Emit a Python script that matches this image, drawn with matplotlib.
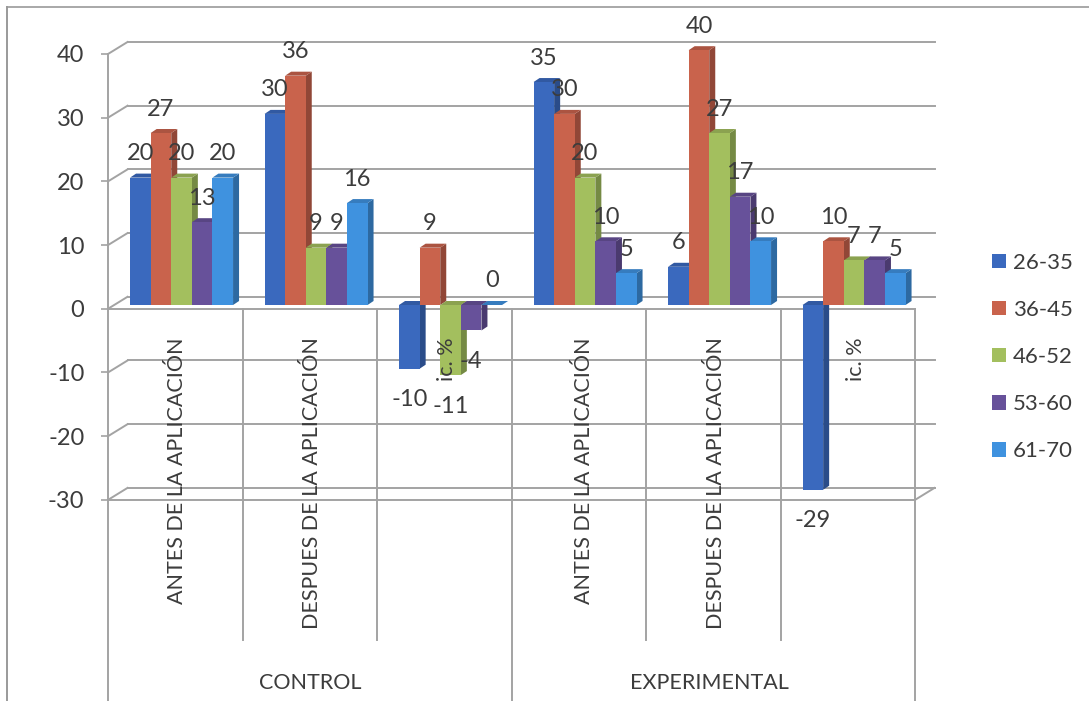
import matplotlib
matplotlib.use("Agg")
import matplotlib.pyplot as plt
from matplotlib.lines import Line2D
from matplotlib.patches import Polygon
from matplotlib.colors import to_rgb

plt.rcParams['font.family'] = ['Lato', 'DejaVu Sans']

categories = ["ANTES DE LA APLICACIÓN", "DESPUES DE LA APLICACIÓN", "ic. %",
              "ANTES DE LA APLICACIÓN", "DESPUES DE LA APLICACIÓN", "ic. %"]
groups = ["CONTROL", "EXPERIMENTAL"]
series_names = ["26-35", "36-45", "46-52", "53-60", "61-70"]
s_26_35 = [20, 30, -10, 35, 6, -29]
s_36_45 = [27, 36, 9, 30, 40, 10]
s_46_52 = [20, 9, -11, 20, 27, 7]
s_53_60 = [13, 9, -4, 10, 17, 7]
s_61_70 = [20, 16, 0, 5, 10, 5]
series = [s_26_35, s_36_45, s_46_52, s_53_60, s_61_70]
colors = ["#3A69BE", "#C9634C", "#A3BF5E", "#67519A", "#3F92DF"]
y_ticks = [40, 30, 20, 10, 0, -10, -20, -30]
cat_label_nudge_px = [2, 2, 3, 5, 3, 8]

W, H = 1089, 701
GRID = "#A3A3A3"
TXT = "#3C3C3C"
cat_px = 807 / 6
val_px = 6.37
px_x = 1 / cat_px
px_y = 1 / val_px

fig = plt.figure(figsize=(W / 100, H / 100), dpi=100, facecolor="white")
top_px = 54
ax = fig.add_axes([108 / W, 0, 807 / W, (H - top_px) / H])
ax.set_xlim(0, 6)
ax.set_ylim(40 - (H - top_px) / val_px, 40)
ax.patch.set_visible(False)
for name in ("top", "right", "bottom"):
    ax.spines[name].set_visible(False)
ax.spines["left"].set_color(GRID)
ax.spines["left"].set_linewidth(1.4)
ax.set_xticks([])
ax.set_yticks(y_ticks)
ax.set_yticklabels([str(v) for v in y_ticks])
ax.tick_params(axis="y", length=5, width=1.2, color=GRID, labelsize=17, labelcolor=TXT, pad=12)

# walls and grid
back_x, back_y = 19.5 * px_x, 12 * px_y
line = dict(color=GRID, lw=1.4, clip_on=False, zorder=1)
for v in y_ticks:
    ax.plot([back_x, 6 + back_x], [v + back_y, v + back_y], **line)
    ax.plot([0, back_x], [v, v + back_y], **line)
ax.plot([6, 6 + back_x], [-30, -30 + back_y], **line)
ax.plot([0, 6], [0, 0], **line)
ax.plot([0, 6], [-30, -30], **line)
y_bottom = ax.get_ylim()[0]
y_sep = (308.8 - 640) / val_px
for i in range(1, 6):
    ax.plot([i, i], [0, y_bottom if i == 3 else y_sep], **line)
ax.plot([6, 6], [0, y_bottom], **line)

# 3D-looking bars
bar_w = 20.6 * px_x
shift = 6.3 * px_x
base = 3.8 * px_y
dx, dy = 6 * px_x, 4 * px_y


def shade(c, f):
    return tuple(min(1, x * f) for x in to_rgb(c))


for j, (vals, c, name) in enumerate(zip(series, colors, series_names)):
    z = 3 + j
    xs = [i + 0.5 + (j - 2) * bar_w + shift for i in range(6)]
    ax.bar(xs, vals, width=bar_w, bottom=base, color=c, linewidth=0, zorder=z + 0.2,
           label=name, clip_on=False)
    for x, v in zip(xs, vals):
        r = x + bar_w / 2
        l = x - bar_w / 2
        hi = base + max(v, 0)
        lo = base + min(v, 0)
        ax.add_patch(Polygon([(r, lo), (r + dx, lo + dy), (r + dx, hi + dy), (r, hi)],
                             closed=True, fc=shade(c, 0.72), ec="none", zorder=z, clip_on=False))
        ax.add_patch(Polygon([(l, hi), (l + dx, hi + dy), (r + dx, hi + dy), (r, hi)],
                             closed=True, fc=shade(c, 0.85), ec="none", zorder=z, clip_on=False))

# category and group labels
cat_top = (308.8 - 337) / val_px
for i, label in enumerate(categories):
    ax.text(i + 0.5 + cat_label_nudge_px[i] * px_x, cat_top, label, rotation=90, ha="center", va="top",
            fontsize=15.5, color=TXT, zorder=9)
ax.text(1.5, (308.8 - 683) / val_px, groups[0], ha="center", va="center", fontsize=15.5, color=TXT, zorder=9)
ax.text(4.47, (308.8 - 683) / val_px, groups[1], ha="center", va="center", fontsize=15.5, color=TXT, zorder=9)

# data labels
for j, vals in enumerate(series):
    for i, v in enumerate(vals):
        x = i + 0.5 + (j - 2) * bar_w + shift
        off = 24 if v >= 0 else -31
        ax.annotate(str(v), (x, base + v), xytext=(0, off * 0.72), textcoords="offset points",
                    ha="center", va="center", fontsize=17, color=TXT, zorder=10,
                    annotation_clip=False)

leg = ax.legend(loc="center left", frameon=False, fontsize=16, labelcolor=TXT,
                handlelength=0.63, handleheight=0.63, handletextpad=0.32, labelspacing=1.22,
                borderpad=0, borderaxespad=0)
leg.set_bbox_to_anchor((992 / W, (H - 357) / H), transform=fig.transFigure)
leg.set_zorder(10)

# outer frame of the scanned page
fig.add_artist(Line2D([7 / W, 7 / W], [0, (H - 7) / H], color="#9A9A9A", lw=1.4))
fig.add_artist(Line2D([7 / W, 1], [(H - 7) / H, (H - 7) / H], color="#9A9A9A", lw=1.2))

fig.savefig("out.png", dpi=100)
